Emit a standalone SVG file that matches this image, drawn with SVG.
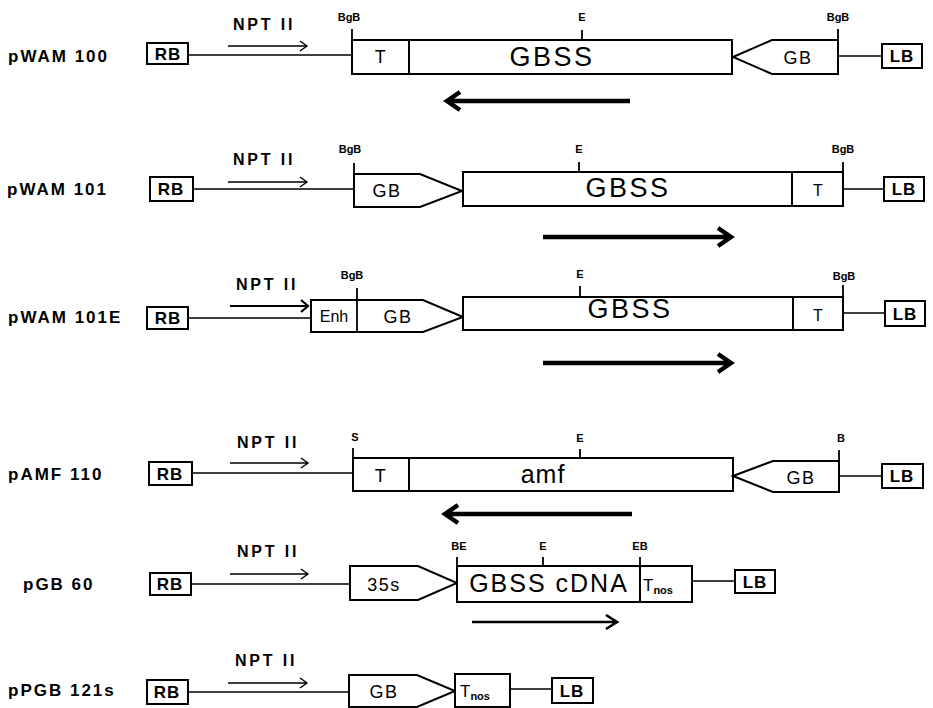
<svg xmlns="http://www.w3.org/2000/svg" width="933" height="708" viewBox="0 0 933 708">
<style>
text{font-family:"Liberation Sans",Arial,sans-serif;fill:#000}
.lab{font-size:17px;font-weight:bold;letter-spacing:2px}
.npt{font-size:16px;font-weight:bold;letter-spacing:2.8px}
.bx{font-size:17px;font-weight:bold;text-anchor:middle;letter-spacing:1px}
.site{font-size:11px;font-weight:bold;text-anchor:middle}
.big{font-size:27px;text-anchor:middle;letter-spacing:2.5px}
.mid{font-size:18px;text-anchor:middle;letter-spacing:1.5px}
.sm{font-size:16px;text-anchor:middle}
.sub{font-size:11px;font-weight:bold}
.box{fill:#fff;stroke:#000;stroke-width:2}
.ln{fill:none;stroke:#000;stroke-width:1.6}
.tick{fill:none;stroke:#000;stroke-width:1.8}
.thin{fill:none;stroke:#000;stroke-width:1.4}
.thick{fill:none;stroke:#000;stroke-width:4.5}
.med{fill:none;stroke:#000;stroke-width:2.6}
</style>
<rect width="933" height="708" fill="#fff"/>

<g id="row1">
<text class="lab" x="8" y="62">pWAM 100</text>
<g id="r1-rb"><rect class="box" x="147" y="43" width="41" height="21"/><text class="bx" x="168" y="60">RB</text></g>
<g id="r1-npt"><text class="npt" x="233" y="30">NPT II</text></g>
<g id="r1-T"><rect class="box" x="352" y="40" width="57" height="34"/><text class="mid" x="381" y="63">T</text></g>
<g id="r1-gbss"><rect class="box" x="409" y="40" width="323" height="34"/><text class="big" x="552" y="66">GBSS</text></g>
<g id="r1-gb"><polygon class="box" points="733,57 772,40 838,40 838,74 772,74"/><text class="mid" x="798" y="64">GB</text></g>
<g id="r1-lb"><rect class="box" x="882" y="44" width="40" height="24"/><text class="bx" x="902" y="62">LB</text></g>
<text class="site" x="349" y="21">BgB</text>
<text class="site" x="582" y="21">E</text>
<text class="site" x="838" y="21">BgB</text>
</g>

<g id="row2">
<text class="lab" x="7" y="195">pWAM 101</text>
<g id="r2-rb"><rect class="box" x="150" y="177" width="43" height="24"/><text class="bx" x="171" y="195">RB</text></g>
<g id="r2-npt"><text class="npt" x="233" y="165">NPT II</text></g>
<g id="r2-gb"><polygon class="box" points="354,174 420,174 462,191 420,207 354,207"/><text class="mid" x="387" y="197">GB</text></g>
<g id="r2-gbss"><rect class="box" x="463" y="172" width="329" height="34"/><text class="big" x="628" y="197">GBSS</text></g>
<g id="r2-T"><rect class="box" x="792" y="172" width="51" height="34"/><text class="sm" x="818" y="196">T</text></g>
<g id="r2-lb"><rect class="box" x="884" y="177" width="40" height="24"/><text class="bx" x="904" y="195">LB</text></g>
<text class="site" x="350" y="153">BgB</text>
<text class="site" x="579" y="153">E</text>
<text class="site" x="843" y="153">BgB</text>
</g>

<g id="row3">
<text class="lab" x="8" y="323">pWAM 101E</text>
<g id="r3-rb"><rect class="box" x="147" y="307" width="41" height="22"/><text class="bx" x="168" y="324">RB</text></g>
<g id="r3-npt"><text class="npt" x="236" y="290">NPT II</text></g>
<g id="r3-enhgb"><polygon class="box" points="311,300 423,300 463,317 423,332 311,332"/><text class="sm" x="334" y="322">Enh</text><text class="mid" x="398" y="323">GB</text></g>
<g id="r3-gbss"><rect class="box" x="463" y="297" width="330" height="33"/><text class="big" x="630" y="318">GBSS</text></g>
<g id="r3-T"><rect class="box" x="793" y="297" width="50" height="33"/><text class="sm" x="818" y="321">T</text></g>
<g id="r3-lb"><rect class="box" x="885" y="301" width="40" height="25"/><text class="bx" x="905" y="320">LB</text></g>
<text class="site" x="352" y="279">BgB</text>
<text class="site" x="580" y="278">E</text>
<text class="site" x="844" y="280">BgB</text>
</g>

<g id="row4">
<text class="lab" x="8" y="480">pAMF 110</text>
<g id="r4-rb"><rect class="box" x="149" y="462" width="43" height="23"/><text class="bx" x="170" y="480">RB</text></g>
<g id="r4-npt"><text class="npt" x="237" y="448">NPT II</text></g>
<g id="r4-T"><rect class="box" x="353" y="458" width="56" height="33"/><text class="mid" x="381" y="482">T</text></g>
<g id="r4-amf"><rect class="box" x="409" y="458" width="324" height="33"/><text class="big" x="543" y="483" style="letter-spacing:1px;font-size:25px">amf</text></g>
<g id="r4-gb"><polygon class="box" points="733,476 773,461 839,461 839,492 773,492"/><text class="mid" x="801" y="484">GB</text></g>
<g id="r4-lb"><rect class="box" x="882" y="464" width="41" height="24"/><text class="bx" x="902" y="482">LB</text></g>
<text class="site" x="355" y="441">S</text>
<text class="site" x="580" y="442">E</text>
<text class="site" x="841" y="442">B</text>
</g>

<g id="row5">
<text class="lab" x="23" y="590">pGB 60</text>
<g id="r5-rb"><rect class="box" x="150" y="573" width="41" height="22"/><text class="bx" x="170" y="590">RB</text></g>
<g id="r5-npt"><text class="npt" x="237" y="557">NPT II</text></g>
<g id="r5-35s"><polygon class="box" points="350,566 418,566 457,583 418,600 350,600"/><text class="mid" x="384" y="591">35s</text></g>
<g id="r5-cdna"><rect class="box" x="457" y="566" width="183" height="36"/><text class="big" x="549" y="592" style="font-size:25px;letter-spacing:2px">GBSS cDNA</text></g>
<g id="r5-tnos"><rect class="box" x="640" y="566" width="52" height="36"/><text x="643" y="591" style="font-size:17px">T<tspan class="sub" dy="3">nos</tspan></text></g>
<g id="r5-lb"><rect class="box" x="735" y="570" width="40" height="23"/><text class="bx" x="755" y="588">LB</text></g>
<text class="site" x="459" y="550">BE</text>
<text class="site" x="543" y="550">E</text>
<text class="site" x="640" y="550">EB</text>
</g>

<g id="row6">
<text class="lab" x="8" y="696">pPGB 121s</text>
<g id="r6-rb"><rect class="box" x="147" y="680" width="41" height="24"/><text class="bx" x="167" y="698">RB</text></g>
<g id="r6-npt"><text class="npt" x="235" y="666">NPT II</text></g>
<g id="r6-gb"><polygon class="box" points="349,675 417,675 455,691 417,707 349,707"/><text class="mid" x="384" y="698">GB</text></g>
<g id="r6-tnos"><rect class="box" x="455" y="674" width="55" height="33"/><text x="460" y="697" style="font-size:17px">T<tspan class="sub" dy="3">nos</tspan></text></g>
<g id="r6-lb"><rect class="box" x="552" y="678" width="41" height="25"/><text class="bx" x="572" y="697">LB</text></g>
</g>

<g id="connectors">
<path class="ln" d="M188,55H352 M838,56H882"/>
<path class="ln" d="M193,189H354 M843,189H884"/>
<path class="ln" d="M188,318H311 M843,313H885"/>
<path class="ln" d="M192,473H353 M839,476H882"/>
<path class="ln" d="M191,584H350 M692,581H735"/>
<path class="ln" d="M188,692H349 M510,689H552"/>
<path class="tick" d="M352,29V40 M582,30V40 M838,29V40"/>
<path class="tick" d="M354,163V174 M579,162V172 M843,162V172"/>
<path class="tick" d="M357,288V332 M580,286V297 M843,285V297"/>
<path class="tick" d="M353,448V458 M580,449V458 M839,450V461"/>
<path class="tick" d="M457,557V566 M543,557V566 M640,557V566"/>
<path class="thin" d="M228,46H307 M300,41L307,46L300,51"/>
<path class="thin" d="M228,182H307 M300,177L307,182L300,187"/>
<path class="med" style="stroke-width:2.2" d="M230,306H308 M301,300L308,306L301,312"/>
<path class="thin" d="M230,463H308 M301,458L308,463L301,468"/>
<path class="thin" d="M230,574H308 M301,569L308,574L301,579"/>
<path class="thin" d="M228,683H307 M300,678L307,683L300,688"/>
<path class="thick" d="M447,101H630 M460,92L447,101L460,110"/>
<path class="thick" d="M543,237H730 M718,228L731,237L718,246"/>
<path class="thick" d="M543,363H730 M718,354L731,363L718,372"/>
<path class="thick" d="M445,514H632 M458,505L445,514L458,523"/>
<path class="med" d="M472,622H616 M606,615L617,622L606,629"/>
</g>
</svg>
